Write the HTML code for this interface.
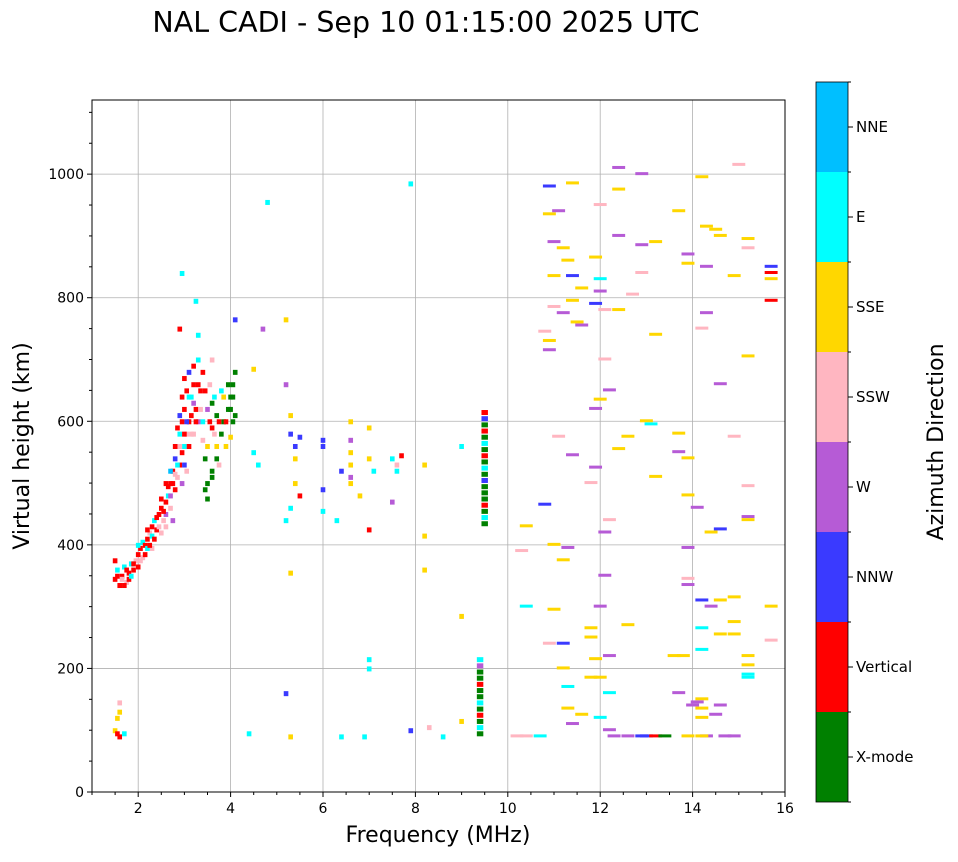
<!DOCTYPE html>
<html><head><meta charset="utf-8"><style>
body{margin:0;background:#fff;}
svg text{font-family:"DejaVu Sans","Liberation Sans",sans-serif;}
</style></head><body>
<svg id="chart" width="958" height="857" xmlns="http://www.w3.org/2000/svg">
<text x="426" y="32" font-size="28.5" text-anchor="middle">NAL CADI - Sep 10 01:15:00 2025 UTC</text>
<g id="grid"></g>
<g id="marks"></g>
<rect x="92" y="100" width="693" height="692" fill="none" stroke="#000" stroke-width="1"/>
<g id="axes"></g>
<text x="438" y="842" font-size="22" text-anchor="middle">Frequency (MHz)</text>
<text x="0" y="0" font-size="22" text-anchor="middle" transform="translate(29,446) rotate(-90)">Virtual height (km)</text>
<g id="cbar"></g>
<text x="0" y="0" font-size="22" text-anchor="middle" transform="translate(943,442) rotate(-90)">Azimuth Direction</text>
</svg>
<script>
const dirNames=["X-mode","Vertical","NNW","W","SSW","SSE","E","NNE"];
const dirColors=["#008000","#ff0000","#3a3aff","#b65bd6","#ffb6c1","#ffd700","#00ffff","#00bfff"];
const xTicks=[2,4,6,8,10,12,14,16];
const yTicks=[0,200,400,600,800,1000];
const freqs=[1.5,1.5,1.55,1.6,1.65,1.7,1.75,1.8,1.85,1.9,1.95,2.0,2.05,2.1,2.1,2.15,2.2,2.25,2.3,2.3,2.35,2.4,2.45,2.5,2.5,2.55,2.6,2.6,2.65,2.7,2.7,2.75,2.75,2.8,2.8,2.85,2.85,2.9,2.9,2.95,2.95,3.0,3.0,3.05,3.05,3.1,3.1,3.15,3.2,3.2,3.25,3.3,3.3,3.35,3.4,3.4,3.45,3.5,3.5,3.55,3.6,3.6,3.65,3.7,3.7,3.75,3.8,3.85,3.9,3.95,4.0,4.05,4.05,4.1,2.9,2.95,3.25,3.3,3.6,4.1,4.0,3.5,2.6,2.2,1.8,3.0,
1.5,1.55,1.6,1.55,1.6,1.7,1.6,
4.5,4.5,4.7,4.8,4.6,5.2,5.2,5.3,5.3,5.4,5.4,5.5,5.2,5.3,5.5,5.4,5.3,5.2,5.3,6.0,6.0,6.0,6.0,6.4,6.3,6.4,6.6,6.6,6.6,6.6,6.6,6.6,6.8,7.0,7.0,7.1,7.0,7.0,7.0,7.5,7.6,7.6,7.7,7.5,7.9,7.9,8.2,8.2,8.2,8.3,8.6,9.0,9.0,9.0,6.9,4.4,
9.5,9.5,9.5,9.5,9.5,9.5,9.5,9.5,9.5,9.5,9.5,9.5,9.5,9.5,9.5,9.5,9.5,9.5,9.5,9.4,9.4,9.4,9.4,9.4,9.4,9.4,9.4,9.4,9.4,9.4,9.4,9.4,
10.2,10.4,10.7,10.8,10.3,10.4,10.4,10.9,10.9,11.1,11.0,11.2,11.4,11.0,11.3,11.4,11.6,11.2,11.4,11.0,11.5,10.8,10.9,10.9,11.6,11.1,11.4,11.0,11.3,11.2,11.0,11.2,10.9,11.2,11.3,11.3,11.6,11.4,11.8,11.8,11.9,11.8,12.0,12.0,12.0,12.1,12.1,12.2,11.9,11.8,11.9,12.0,12.2,12.1,12.4,12.4,12.0,11.9,12.0,12.0,11.9,12.1,12.4,12.4,12.4,12.6,12.2,12.2,12.3,12.6,12.2,12.6,12.7,12.9,12.9,12.9,13.2,13.2,13.0,13.1,13.2,13.0,13.2,13.4,13.7,13.9,13.9,13.7,13.7,13.9,13.9,13.9,13.9,13.9,13.8,13.7,14.0,14.2,14.3,14.3,14.3,14.2,14.1,14.2,14.2,14.2,14.2,14.2,14.2,14.3,14.2,13.9,14.5,14.6,14.6,14.6,14.4,14.4,14.6,14.6,14.6,14.5,14.7,14.9,14.9,14.9,14.9,14.9,14.9,15.0,15.2,15.2,15.2,15.2,15.2,15.2,15.2,15.2,15.2,15.2,15.7,15.7,15.7,15.7,15.7,15.7,13.6,12.9,14.1,
1.55,1.65,1.7,1.75,1.85,1.9,2.0,2.0,2.05,2.15,2.2,2.25,2.3,2.35,2.4,2.45,2.5,2.55,2.6,2.65,2.7,2.7,2.75,2.8,2.8,2.85,2.85,2.9,2.9,2.95,2.95,3.0,3.0,3.05,3.05,3.1,3.1,3.15,3.15,3.2,3.2,3.25,3.3,3.35,3.4,3.45,3.5,3.55,3.6,3.65,3.7,3.75,3.8,3.85,3.9,3.95,4.0,4.05,4.1,3.45,3.6];
const heights=[345,375,360,335,350,365,340,355,370,360,375,385,395,380,405,400,410,420,395,430,440,425,450,460,420,440,470,450,480,500,460,520,440,540,490,560,510,580,530,600,500,620,560,650,580,680,600,640,660,580,620,700,600,650,570,680,540,620,500,660,590,520,640,560,610,530,650,600,560,620,640,600,660,680,750,840,795,740,700,765,575,475,500,395,345,530,
100,120,130,95,90,95,145,
550,685,750,955,530,765,660,610,580,560,540,575,440,460,480,500,355,160,90,570,560,490,455,520,440,90,600,570,550,530,510,500,480,590,540,520,425,215,200,540,530,520,545,470,985,100,530,415,360,105,90,560,285,115,90,95,
615,605,595,585,575,565,555,545,535,525,515,505,495,485,475,465,455,445,435,215,205,195,185,175,165,155,145,135,125,115,105,95,
90,90,90,465,390,430,300,980,935,940,890,880,985,835,860,835,815,775,795,785,760,745,730,715,755,575,545,400,395,375,295,240,240,200,170,135,125,110,265,250,215,185,185,120,300,350,420,440,525,500,620,635,650,700,1010,975,950,865,830,810,790,780,780,900,555,575,220,160,90,90,100,270,805,1000,885,840,890,740,600,595,510,90,90,90,940,870,855,580,550,540,480,395,345,335,220,160,140,995,915,850,775,750,460,310,265,230,150,135,120,90,90,90,910,900,660,425,420,300,310,255,140,125,90,90,835,575,315,275,255,1015,895,880,705,495,445,440,220,205,190,185,850,840,830,795,300,245,220,90,145,
350,345,335,360,350,370,365,400,375,385,425,400,415,410,445,430,475,455,430,495,480,520,500,515,560,530,590,610,560,550,640,580,670,600,520,640,560,610,580,630,690,600,660,620,600,650,560,600,630,580,540,600,580,640,600,660,620,640,610,490,510];
const dirs=[1,1,6,1,1,6,4,1,6,1,4,1,1,4,6,1,1,4,4,1,6,1,1,1,4,4,1,3,6,1,4,1,3,2,1,1,4,6,1,1,3,1,6,1,4,2,1,6,1,4,1,6,3,1,4,1,0,3,0,4,1,0,6,5,0,4,6,0,5,0,0,0,0,0,1,6,6,6,4,2,5,0,1,6,1,2,
5,5,5,1,1,6,4,
6,5,3,6,6,5,3,5,2,2,5,2,6,6,1,5,5,2,5,2,2,2,6,2,6,6,5,3,5,5,3,5,5,5,5,6,1,6,6,6,4,6,1,3,6,2,5,5,5,4,6,6,5,5,6,6,
1,2,0,1,0,6,0,1,0,6,0,2,0,0,0,1,0,6,0,6,3,0,0,1,0,0,6,0,1,0,6,0,
4,4,6,2,4,5,6,2,5,3,3,5,5,5,5,2,5,3,5,4,5,4,5,3,3,4,3,5,3,5,5,2,4,5,6,5,5,3,5,5,5,5,5,6,3,3,3,4,3,4,3,5,3,4,3,5,4,5,6,3,2,4,5,3,5,5,3,6,3,3,3,5,4,3,3,4,5,5,5,6,5,2,1,0,5,3,5,5,3,5,5,3,4,3,5,3,3,5,5,3,3,4,3,2,6,6,5,5,5,3,5,5,5,5,3,2,5,3,5,5,3,3,3,3,5,4,5,5,5,4,5,4,5,4,3,5,5,5,6,6,2,1,5,1,5,4,5,2,3,
1,4,1,1,6,1,1,6,4,1,1,1,6,1,1,4,1,1,4,1,3,7,1,4,1,6,1,2,4,1,1,1,1,2,4,6,1,1,4,3,1,1,1,4,6,1,5,1,0,4,0,1,0,5,1,0,0,0,0,0,0];
const NS="http://www.w3.org/2000/svg";
const X0=92,X1=785,Y0=792,Y1=100,FMIN=1,FMAX=16,HMAX=1120;
const xs=f=>X0+(f-FMIN)/(FMAX-FMIN)*(X1-X0);
const ys=h=>Y0-h/HMAX*(Y0-Y1);
function mk(tag,attrs,parent){const e=document.createElementNS(NS,tag);for(const k in attrs)e.setAttribute(k,attrs[k]);parent.appendChild(e);return e;}
const grid=document.getElementById('grid'),axes=document.getElementById('axes'),marks=document.getElementById('marks'),cbar=document.getElementById('cbar');
xTicks.forEach(t=>{const x=xs(t);
 const g=mk('line',{x1:x,x2:x,y1:Y1,y2:Y0,stroke:'#b0b0b0','stroke-width':0.8},grid);
 
 
 mk('line',{x1:x,x2:x,y1:Y0,y2:Y0+5,stroke:'#000'},axes);
 const l=mk('text',{x:x,y:Y0+21,'font-size':14,'text-anchor':'middle'},axes);l.textContent=t;
 
 });
for(let f=1;f<16;f+=0.5){if(f%2===0)continue;const x=xs(f);mk('line',{x1:x,x2:x,y1:Y0,y2:Y0+3,stroke:'#000'},axes);}
yTicks.forEach(t=>{const y=ys(t);
 const g=mk('line',{x1:X0,x2:X1,y1:y,y2:y,stroke:'#b0b0b0','stroke-width':0.8},grid);
 
 
 mk('line',{x1:X0-5,x2:X0,y1:y,y2:y,stroke:'#000'},axes);
 const l=mk('text',{x:X0-8,y:y+5,'font-size':14,'text-anchor':'end'},axes);l.textContent=t;
 
 });
for(let h=50;h<1120;h+=50){if(h%200===0)continue;const y=ys(h);mk('line',{x1:X0-3,x2:X0,y1:y,y2:y,stroke:'#000'},axes);}
for(let i=0;i<freqs.length;i++){
 const f=freqs[i],h=heights[i],w=f>=10?0.28:(f>9?0.14:0.1);
 const r=mk('rect',{x:xs(f-w/2),y:ys(h)-2,width:xs(f+w/2)-xs(f-w/2),height:f>=10?3:5,fill:dirColors[dirs[i]]},marks);
 
 
}
const CX=816,CW=32,CT=82,CB=802,seg=(CB-CT)/dirNames.length;
dirNames.forEach((n,i)=>{const y=CB-(i+1)*seg;
 const r=mk('rect',{x:CX,y:y,width:CW,height:seg,fill:dirColors[i]},cbar);
 
 
 mk('line',{x1:CX+CW,x2:CX+CW+5,y1:y+seg/2,y2:y+seg/2,stroke:'#000'},cbar);
 const t=mk('text',{x:CX+CW+8,y:y+seg/2+5,'font-size':15},cbar);t.textContent=n;
 
 });
for(let i=0;i<=8;i++){const y=CT+i*seg;mk('line',{x1:CX+CW,x2:CX+CW+3,y1:y,y2:y,stroke:'#000'},cbar);}
mk('rect',{x:CX,y:CT,width:CW,height:CB-CT,fill:'none',stroke:'#000','stroke-width':0.8},cbar);
</script>
</body></html>
